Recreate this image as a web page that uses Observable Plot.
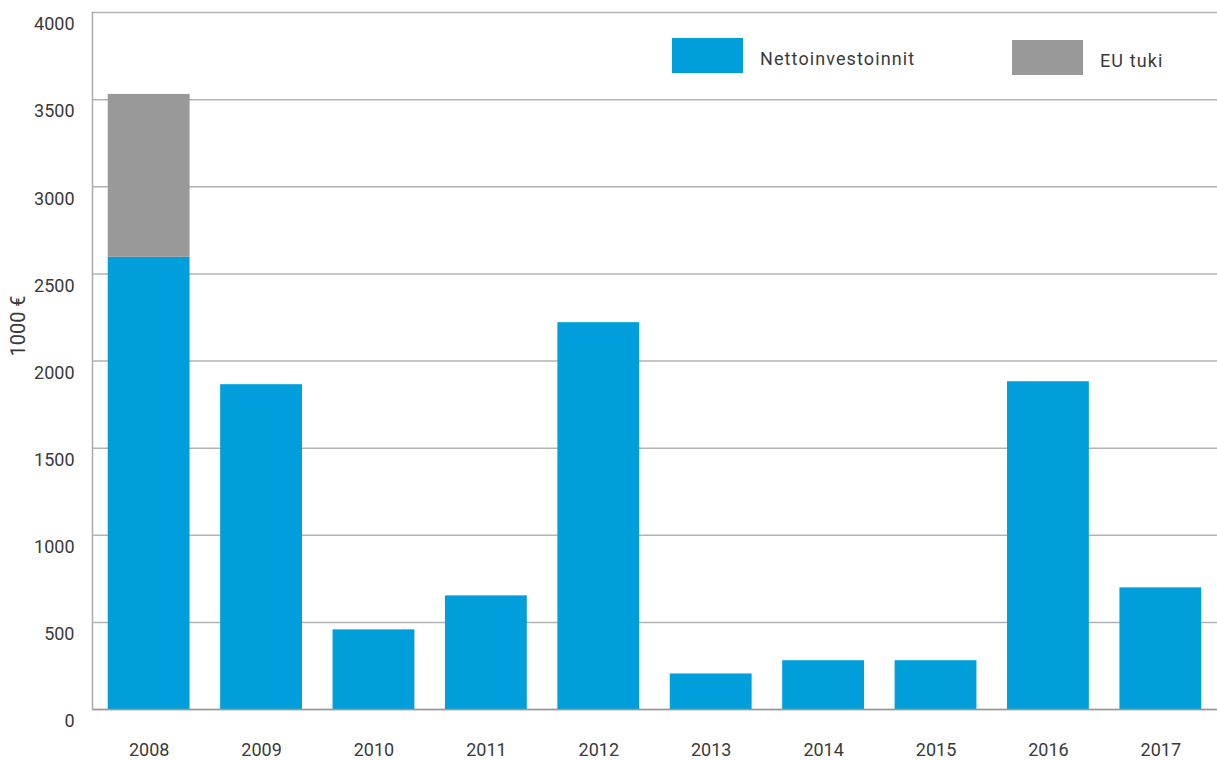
<!DOCTYPE html>
<html>
<head>
<meta charset="utf-8">
<script src="https://cdn.jsdelivr.net/npm/d3@7"></script>
<script src="https://cdn.jsdelivr.net/npm/@observablehq/plot@0.6"></script>
<style>
  body { margin: 0; background: #fff; font-family: Roboto, "Noto Sans", sans-serif; }
  #wrap { position: relative; width: 1217px; height: 760px; }
  .legend { position: absolute; display: flex; align-items: center; font-size: 18px; color: #3a3a3a; font-weight: 400; letter-spacing: 1.1px; }
  .legend span { padding-top: 5px; }
  .sw { width: 71px; height: 35px; margin-right: 17px; }
</style>
</head>
<body>
<div id="wrap"></div>
<script>
const years = ["2008","2009","2010","2011","2012","2013","2014","2015","2016","2017"];
const netto = [2595, 1864, 457, 652, 2220, 204, 280, 280, 1881, 698];
const euTuki = [935, 0, 0, 0, 0, 0, 0, 0, 0, 0];
const seriesNames = ["Nettoinvestoinnit", "EU tuki"];
const seriesColors = ["#009fdb", "#999999"];
const yTicks = [0, 500, 1000, 1500, 2000, 2500, 3000, 3500, 4000];
const yLabel = "1000 €";

const rows = [];
years.forEach((y, i) => {
  rows.push({year: y, series: seriesNames[0], value: netto[i]});
  if (euTuki[i] > 0) rows.push({year: y, series: seriesNames[1], value: euTuki[i]});
});

const chart = Plot.plot({
  width: 1217,
  height: 760,
  marginLeft: 92,
  marginRight: 0,
  marginTop: 12,
  marginBottom: 51,
  style: {fontFamily: "Roboto, sans-serif", fontSize: "18px", color: "#3a3a3a", fontWeight: 400, background: "#fff"},
  x: {domain: years, paddingInner: 0.272, paddingOuter: 0.14, round: false, label: null},
  y: {domain: [0, 4000], label: null},
  color: {domain: seriesNames, range: seriesColors},
  marks: [
    Plot.gridY(yTicks, {stroke: "#b3b3b3", strokeOpacity: 1, strokeWidth: 1.5}),
    Plot.barY(rows, Plot.stackY({x: "year", y: "value", fill: "series", order: seriesNames})),
    Plot.ruleY([0], {stroke: "#999", strokeWidth: 1.5}),
    Plot.frame({anchor: "left", stroke: "#aaa", strokeWidth: 1.5}),
    Plot.axisY(yTicks, {tickSize: 0, tickPadding: 18, dy: 12, label: null, fill: "#3a3a3a", tickFormat: d => String(d)}),
    Plot.axisX({tickSize: 0, tickPadding: 34, label: null, fill: "#3a3a3a"}),
    Plot.text([yLabel], {frameAnchor: "left", text: d => d, rotate: -90, textAnchor: "middle", dx: -74, dy: -35, fill: "#3a3a3a", fontSize: 20})
  ]
});

const wrap = document.getElementById("wrap");
wrap.appendChild(chart);

const legendPos = [{left: 672, top: 38}, {left: 1012, top: 40}];
seriesNames.forEach((name, i) => {
  const d = document.createElement("div");
  d.className = "legend";
  d.style.left = legendPos[i].left + "px";
  d.style.top = legendPos[i].top + "px";
  const sw = document.createElement("div");
  sw.className = "sw";
  sw.style.background = seriesColors[i];
  const t = document.createElement("span");
  t.textContent = name;
  d.appendChild(sw);
  d.appendChild(t);
  wrap.appendChild(d);
});
</script>
</body>
</html>
